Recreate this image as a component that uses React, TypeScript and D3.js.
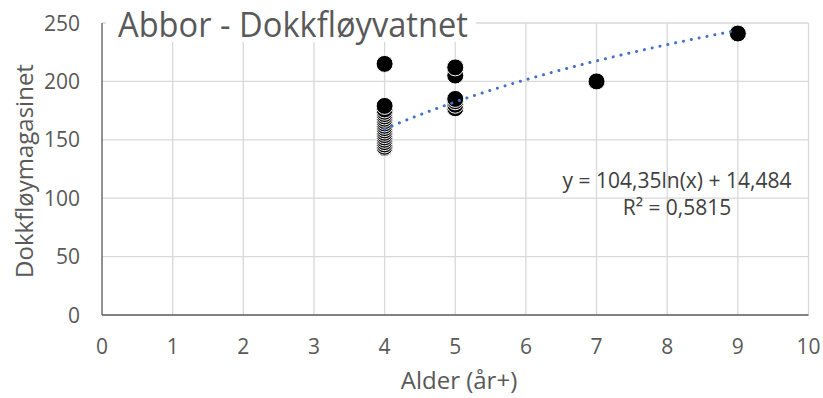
import React from "react";
import * as d3 from "d3";

const ages = [9, 7, 5, 5, 5, 5, 5, 5, 4, 4, 4, 4, 4, 4, 4, 4, 4, 4, 4, 4, 4, 4, 4, 4, 4, 4, 4, 4];
const lengths = [241, 200, 212, 205, 185, 183, 180, 177, 215, 179, 176, 174, 172, 170, 168, 166, 164, 162, 160, 158, 156, 154, 152, 150, 148, 146, 144, 143];
const xTicks = [0, 1, 2, 3, 4, 5, 6, 7, 8, 9, 10];
const yTicks = [0, 50, 100, 150, 200, 250];
const trendA = 104.35;
const trendB = 14.484;
const trendRange = [4, 9];

const W = 823;
const H = 398;
const FONT = "'Open Sans', 'Noto Sans', sans-serif";

export default function App() {
  const x = d3.scaleLinear().domain([0, 10]).range([102, 808.5]);
  const y = d3.scaleLinear().domain([0, 250]).range([315, 23]);
  const trendX = d3.range(trendRange[0], trendRange[1] + 0.001, 0.05);
  const line = d3
    .line<number>()
    .x((d) => x(d))
    .y((d) => y(trendA * Math.log(d) + trendB));
  const pts = ages.map((a, i) => ({ a, l: lengths[i] })).reverse();
  return (
    <svg
      width={W}
      height={H}
      style={{ position: "fixed", left: 0, top: 0, background: "#fff" }}
      fontFamily={FONT}
    >
      <rect x={0} y={0} width={W} height={H} fill="#fff" />
      {yTicks.filter((t) => t > 0).map((t) => (
        <line key={"hy" + t} x1={x(0)} x2={x(10)} y1={y(t)} y2={y(t)} stroke="#d9d9d9" strokeWidth={1.3} />
      ))}
      {xTicks.filter((t) => t > 0).map((t) => (
        <line key={"vx" + t} x1={x(t)} x2={x(t)} y1={y(0)} y2={y(250)} stroke="#d9d9d9" strokeWidth={1.3} />
      ))}
      <line x1={x(0)} x2={x(0)} y1={y(0)} y2={y(250)} stroke="#595959" strokeWidth={1.3} />
      <line x1={x(0)} x2={x(10)} y1={y(0)} y2={y(0)} stroke="#595959" strokeWidth={1.3} />
      {yTicks.map((t) => (
        <text key={"ty" + t} x={80} y={y(t)} dy="0.36em" textAnchor="end" fontSize={21} fill="#595959">
          {t}
        </text>
      ))}
      {xTicks.map((t) => (
        <text key={"tx" + t} x={x(t)} y={354} textAnchor="middle" fontSize={21} fill="#595959">
          {t}
        </text>
      ))}
      <text x={459} y={389} textAnchor="middle" fontSize={24} fill="#595959">
        Alder (år+)
      </text>
      <text
        transform={`translate(33,171) rotate(-90)`}
        textAnchor="middle"
        fontSize={24}
        fill="#595959"
      >
        Dokkfløymagasinet
      </text>
      <rect x={106} y={4} width={370} height={38} fill="#fff" />
      <text x={118} y={37} fontSize={34} fill="#595959" textLength={350} lengthAdjust="spacingAndGlyphs">
        Abbor - Dokkfløyvatnet
      </text>
      {pts.map((p, i) => (
        <circle key={i} cx={x(p.a)} cy={y(p.l)} r={8.5} fill="#000" stroke="#fff" strokeWidth={1} />
      ))}
      <path
        d={line(trendX) || ""}
        fill="none"
        stroke="#4472C4"
        strokeWidth={3}
        strokeDasharray="0.1 7.9"
        strokeLinecap="round"
      />
      <text x={677} y={188} textAnchor="middle" fontSize={21} fill="#404040">
        y = 104,35ln(x) + 14,484
      </text>
      <text x={677} y={215} textAnchor="middle" fontSize={21} fill="#404040">
        R² = 0,5815
      </text>
    </svg>
  );
}
